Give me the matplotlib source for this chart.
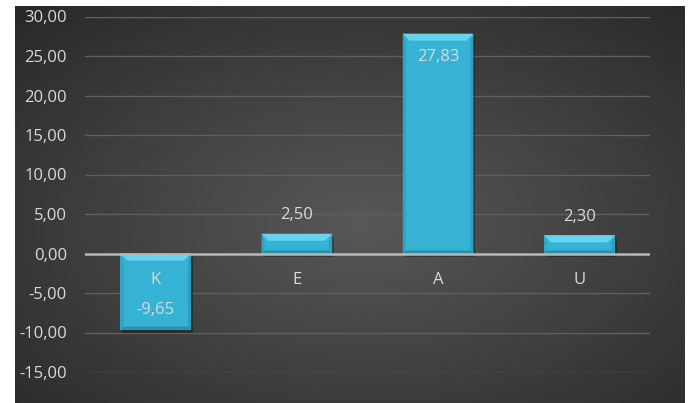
import numpy as np
import matplotlib
matplotlib.use("Agg")
import matplotlib.pyplot as plt
from matplotlib.patches import Polygon, Rectangle
from matplotlib.transforms import IdentityTransform

categories = ["K", "E", "A", "U"]
values = [-9.65, 2.50, 27.83, 2.30]
value_labels = ["-9,65", "2,50", "27,83", "2,30"]
yticks = [-15, -10, -5, 0, 5, 10, 15, 20, 25, 30]
ytick_labels = ["-15,00", "-10,00", "-5,00", "0,00", "5,00", "10,00", "15,00", "20,00", "25,00", "30,00"]

plt.rcParams['font.family'] = ['Open Sans', 'DejaVu Sans']
W, H, DPI = 692, 403, 100
fig = plt.figure(figsize=(W / DPI, H / DPI), dpi=DPI)
fig.patch.set_facecolor("white")

# dark radial-gradient chart area
bg = fig.add_axes([15 / W, 0, 670 / W, 1 - 6 / H])
bg.set_axis_off()
yy, xx = np.mgrid[0:1:300j, 0:1:500j]
r = np.sqrt(((xx - 0.52) / 0.78) ** 2 + ((yy - 0.45) / 0.78) ** 2)
r = np.clip(r, 0, 1)
c0 = np.array([0x58, 0x58, 0x58]) / 255
c1 = np.array([0x27, 0x27, 0x27]) / 255
img = c0[None, None, :] * (1 - r[..., None]) + c1[None, None, :] * r[..., None]
bg.imshow(img, aspect="auto", extent=[0, 1, 0, 1], origin="lower")

ax = fig.add_axes([85 / W, 31 / H, 565 / W, 355.5 / H])
ax.set_facecolor("none")
x = np.arange(len(categories))
ax.set_xlim(-0.5, len(categories) - 0.5)
ax.set_ylim(-15, 30)
ax.set_yticks(yticks)
ax.set_yticklabels(ytick_labels, color="#d9d9d9", fontsize=12)
ax.tick_params(axis="y", length=0, pad=13)
ax.set_xticks([])
for s in ax.spines.values():
    s.set_visible(False)
for t in yticks:
    if t != 0:
        ax.axhline(t, color="#5f5f5f", lw=1.0, zorder=0)
ax.axhline(0, color="#b8b8b8", lw=1.8, zorder=3)

bars = ax.bar(x, values, width=0.5, color="#36B2D4", zorder=2, edgecolor="none")

fig.canvas.draw()
for b in bars:
    x0, y0 = ax.transData.transform((b.get_x(), min(b.get_y(), b.get_y() + b.get_height())))
    x1, y1 = ax.transData.transform((b.get_x() + b.get_width(), max(b.get_y(), b.get_y() + b.get_height())))
    w, h = x1 - x0, y1 - y0
    bev = min(7, h * 0.45)
    side = 3
    # shadow
    ax.add_patch(Rectangle((x0 + 2, y0 - 3), w, h, transform=IdentityTransform(),
                           facecolor="black", alpha=0.3, edgecolor="none", zorder=1.9))
    # left / right darker side strips
    ax.add_patch(Polygon([(x0, y0), (x0 + side, y0 + side), (x0 + side, y1 - bev), (x0, y1)],
                         closed=True, transform=IdentityTransform(), facecolor="#2EA4C6", edgecolor="none", zorder=2.1))
    ax.add_patch(Polygon([(x1, y0), (x1 - side, y0 + side), (x1 - side, y1 - bev), (x1, y1)],
                         closed=True, transform=IdentityTransform(), facecolor="#2C9EBF", edgecolor="none", zorder=2.1))
    # bottom darker strip
    ax.add_patch(Polygon([(x0, y0), (x1, y0), (x1 - side, y0 + side), (x0 + side, y0 + side)],
                         closed=True, transform=IdentityTransform(), facecolor="#2990AE", edgecolor="none", zorder=2.1))
    # top bevel
    ax.add_patch(Polygon([(x0, y1), (x1, y1), (x1 - side - 4, y1 - bev), (x0 + side + 4, y1 - bev)],
                         closed=True, transform=IdentityTransform(), facecolor="#66D4EF", edgecolor="none", zorder=2.2))

px = 0.72  # points per pixel at 100 dpi
for xi, cat, v, lab in zip(x, categories, values, value_labels):
    ax.annotate(cat, (xi, 0), xytext=(0, -26 * px), textcoords="offset points",
                ha="center", va="center", color="#d9d9d9", fontsize=12, zorder=5)
    if v >= 20:
        off = -23
    elif v < 0:
        off = 20
    else:
        off = 18.5
    ax.annotate(lab, (xi, v), xytext=(0, off * px), textcoords="offset points",
                ha="center", va="center", color="#d9d9d9", fontsize=12, zorder=5)

fig.savefig("out.png", dpi=DPI, facecolor="white")
